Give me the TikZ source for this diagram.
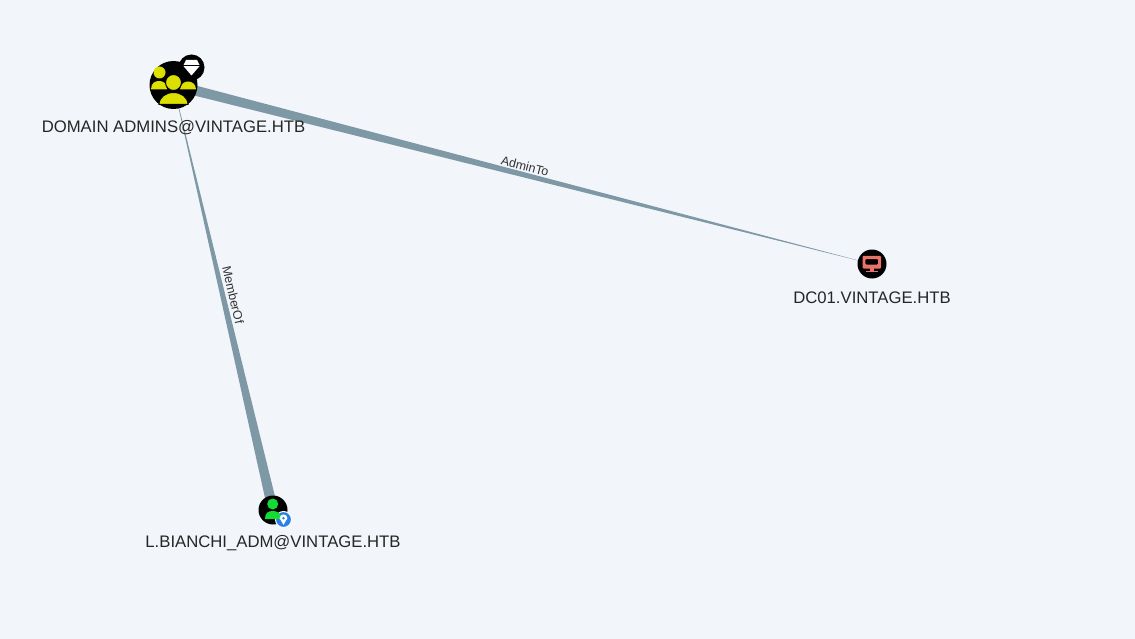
\documentclass[tikz,border=0pt]{standalone}
\usepackage{fontspec}
\setmainfont{Liberation Sans}
\definecolor{canvasbg}{HTML}{F2F6FB}
\definecolor{edgegray}{HTML}{7F98A6}
\definecolor{groupyellow}{HTML}{DCE000}
\definecolor{usergreen}{HTML}{14DC32}
\definecolor{hostred}{HTML}{E8736B}
\definecolor{badgeblue}{HTML}{2B80E6}
\usetikzlibrary{positioning, calc, backgrounds}

\begin{document}
\begin{tikzpicture}[
		x=1pt, y=-1pt,
		% Graph node discs
		graphnode/.style={circle, fill=black, inner sep=0pt},
		% Text under a node
		nodelabel/.style={inner sep=0pt, text=black!85, font=\fontsize{16.7}{18}\selectfont},
		% Text along an edge
		edgelabel/.style={inner sep=0pt, text=black!80, font=\fontsize{12.5}{13}\selectfont},
		% Tapered edge
		edgewedge/.style={fill=edgegray}
		]
		
		% --- Nodes ---
		\node[graphnode, minimum size=48pt] (domainadmins) at (173.5,85) {};
		\node[graphnode, minimum size=26pt] (tierbadge) at (191.5,67.5) {};
		\node[graphnode, minimum size=29pt] (dc01) at (872,264) {};
		\node[graphnode, minimum size=29pt] (bianchi) at (273,510) {};
		\node[circle, fill=badgeblue, draw=white, line width=1pt, inner sep=0pt, minimum size=16pt] (ownedbadge) at (283.5,519.5) {};
		
		% --- Canvas and edges, under the nodes ---
		\begin{scope}[on background layer]
			\fill[canvasbg] (0,0) rectangle (1135,639);
			\fill[edgewedge] ($(domainadmins.center)!5.2pt!90:(dc01.center)$) -- ($(domainadmins.center)!5.2pt!-90:(dc01.center)$) -- (dc01.center) -- cycle;
			\fill[edgewedge] ($(bianchi.center)!5.2pt!90:(domainadmins.center)$) -- ($(bianchi.center)!5.2pt!-90:(domainadmins.center)$) -- (domainadmins.center) -- cycle;
		\end{scope}
		\useasboundingbox (0,0) rectangle (1135,639);
		
		% --- Group icon ---
		\fill[groupyellow] (159.5,72.5) circle (6);
		\fill[groupyellow] (151,89.5) .. controls (151,83) and (155,81) .. (159,81) .. controls (163,81) and (167,83) .. (167,89.5) -- cycle;
		\fill[groupyellow] (180,89.5) .. controls (181,84) and (184,81.5) .. (188,81.5) .. controls (192,81.5) and (196,84) .. (196,89.5) -- cycle;
		\fill[groupyellow, draw=black, line width=1pt] (173.5,82.5) circle (8);
		\fill[groupyellow, draw=black, line width=1pt] (159,104.5) .. controls (159,97) and (166,92.5) .. (173.5,92.5) .. controls (181,92.5) and (188,97) .. (188,104.5) -- cycle;
		
		% --- Diamond on the badge ---
		\fill[white] (186,60) -- (197,60) -- (199.5,65) -- (183.5,65) -- cycle;
		\fill[white] (183.5,66.2) -- (199.5,66.2) -- (191.5,75.5) -- cycle;
		
		% --- User icon ---
		\fill[usergreen] (272.7,504) circle (5.5);
		\fill[usergreen] (265,519) .. controls (265,513) and (268,511) .. (272.7,511) .. controls (277.5,511) and (281,513) .. (281,519) -- cycle;
		\fill[white] (279.6,518.3) arc (180:360:3.9) -- (283.5,524.8) -- cycle;
		\fill[badgeblue] (283.5,518.3) circle (1.4);
		
		% --- Computer icon ---
		\fill[hostred, rounded corners=1pt, even odd rule] (862.5,255.8) rectangle (881,268.5) (865.3,259) rectangle (878.2,264.5);
		\fill[hostred] (870,268) rectangle (874,271);
		\fill[hostred] (866,271) rectangle (878,272.3);
		
		% --- Labels ---
		\node[nodelabel, below=11.5pt of domainadmins] (dalabel) {DOMAIN ADMINS@VINTAGE.HTB};
		\node[nodelabel, below=12.5pt of dc01] (dclabel) {DC01.VINTAGE.HTB};
		\node[nodelabel, below=10.5pt of bianchi] (userlabel) {L.BIANCHI\_ADM@VINTAGE.HTB};
		\node[edgelabel, rotate=-14.4] (admintolabel) at (525,166) {AdminTo};
		\node[edgelabel, rotate=-77] (memberoflabel) at (233,295) {MemberOf};
		
	\end{tikzpicture}
\end{document}
